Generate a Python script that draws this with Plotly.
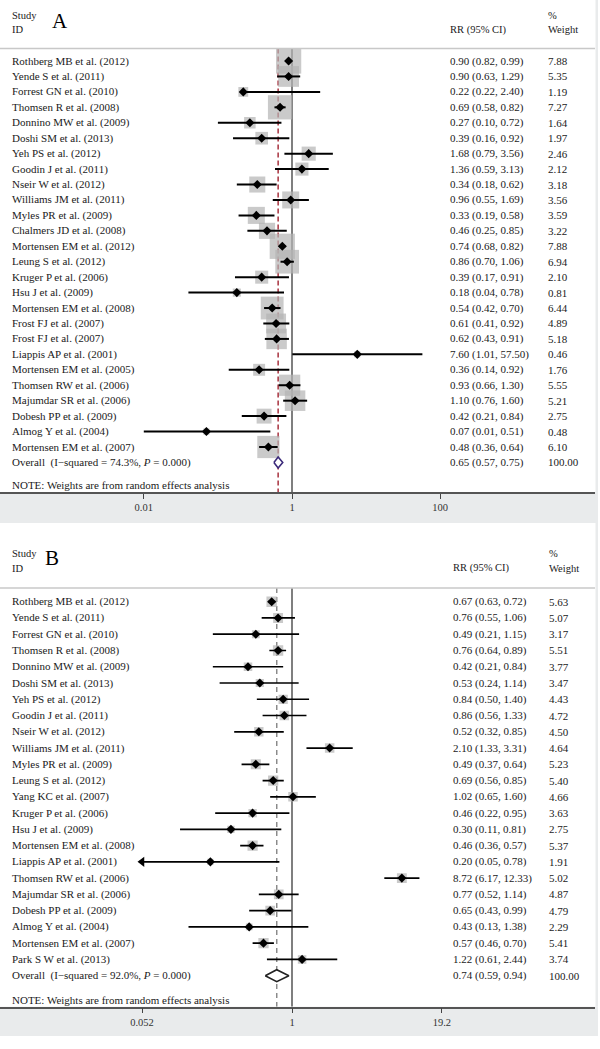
import plotly.graph_objects as go
import math

W, H = 600, 1049
FONT = "Liberation Serif, Times New Roman, serif"

# ---------------- Panel A data ----------------
studies_a = [
    "Rothberg MB et al. (2012)", "Yende S et al. (2011)", "Forrest GN et al. (2010)",
    "Thomsen R et al. (2008)", "Donnino MW et al. (2009)", "Doshi SM et al. (2013)",
    "Yeh PS et al. (2012)", "Goodin J et al. (2011)", "Nseir W et al. (2012)",
    "Williams JM et al. (2011)", "Myles PR et al. (2009)", "Chalmers JD et al. (2008)",
    "Mortensen EM et al. (2012)", "Leung S et al. (2012)", "Kruger P et al. (2006)",
    "Hsu J et al. (2009)", "Mortensen EM et al. (2008)", "Frost FJ et al. (2007)",
    "Frost FJ et al. (2007)", "Liappis AP et al. (2001)", "Mortensen EM et al. (2005)",
    "Thomsen RW et al. (2006)", "Majumdar SR et al. (2006)", "Dobesh PP et al. (2009)",
    "Almog Y et al. (2004)", "Mortensen EM et al. (2007)",
]
rr_a = [0.90, 0.90, 0.22, 0.69, 0.27, 0.39, 1.68, 1.36, 0.34, 0.96, 0.33, 0.46, 0.74,
        0.86, 0.39, 0.18, 0.54, 0.61, 0.62, 7.60, 0.36, 0.93, 1.10, 0.42, 0.07, 0.48]
lo_a = [0.82, 0.63, 0.22, 0.58, 0.10, 0.16, 0.79, 0.59, 0.18, 0.55, 0.19, 0.25, 0.68,
        0.70, 0.17, 0.04, 0.42, 0.41, 0.43, 1.01, 0.14, 0.66, 0.76, 0.21, 0.01, 0.36]
hi_a = [0.99, 1.29, 2.40, 0.82, 0.72, 0.92, 3.56, 3.13, 0.62, 1.69, 0.58, 0.85, 0.82,
        1.06, 0.91, 0.78, 0.70, 0.92, 0.91, 57.50, 0.92, 1.30, 1.60, 0.84, 0.51, 0.64]
wt_a = [7.88, 5.35, 1.19, 7.27, 1.64, 1.97, 2.46, 2.12, 3.18, 3.56, 3.59, 3.22, 7.88,
        6.94, 2.10, 0.81, 6.44, 4.89, 5.18, 0.46, 1.76, 5.55, 5.21, 2.75, 0.48, 6.10]
overall_label_a = "Overall  (I\u2212squared = 74.3%, <i>P</i> = 0.000)"
overall_a = [0.65, 0.57, 0.75]
overall_wt_a = "100.00"
ticks_a = [0.01, 1, 100]
ticktext_a = ["0.01", "1", "100"]

# ---------------- Panel B data ----------------
studies_b = [
    "Rothberg MB et al. (2012)", "Yende S et al. (2011)", "Forrest GN et al. (2010)",
    "Thomsen R et al. (2008)", "Donnino MW et al. (2009)", "Doshi SM et al. (2013)",
    "Yeh PS et al. (2012)", "Goodin J et al. (2011)", "Nseir W et al. (2012)",
    "Williams JM et al. (2011)", "Myles PR et al. (2009)", "Leung S et al. (2012)",
    "Yang KC et al. (2007)", "Kruger P et al. (2006)", "Hsu J et al. (2009)",
    "Mortensen EM et al. (2008)", "Liappis AP et al. (2001)", "Thomsen RW et al. (2006)",
    "Majumdar SR et al. (2006)", "Dobesh PP et al. (2009)", "Almog Y et al. (2004)",
    "Mortensen EM et al. (2007)", "Park S W et al. (2013)",
]
rr_b = [0.67, 0.76, 0.49, 0.76, 0.42, 0.53, 0.84, 0.86, 0.52, 2.10, 0.49, 0.69,
        1.02, 0.46, 0.30, 0.46, 0.20, 8.72, 0.77, 0.65, 0.43, 0.57, 1.22]
lo_b = [0.63, 0.55, 0.21, 0.64, 0.21, 0.24, 0.50, 0.56, 0.32, 1.33, 0.37, 0.56,
        0.65, 0.22, 0.11, 0.36, 0.05, 6.17, 0.52, 0.43, 0.13, 0.46, 0.61]
hi_b = [0.72, 1.06, 1.15, 0.89, 0.84, 1.14, 1.40, 1.33, 0.85, 3.31, 0.64, 0.85,
        1.60, 0.95, 0.81, 0.57, 0.78, 12.33, 1.14, 0.99, 1.38, 0.70, 2.44]
wt_b = [5.63, 5.07, 3.17, 5.51, 3.77, 3.47, 4.43, 4.72, 4.50, 4.64, 5.23, 5.40,
        4.66, 3.63, 2.75, 5.37, 1.91, 5.02, 4.87, 4.79, 2.29, 5.41, 3.74]
overall_label_b = "Overall  (I\u2212squared = 92.0%, <i>P</i> = 0.000)"
overall_b = [0.74, 0.59, 0.94]
overall_wt_b = "100.00"
ticks_b = [0.052, 1, 19.2]
ticktext_b = ["0.052", "1", "19.2"]

note_text = "NOTE: Weights are from random effects analysis"


def px_x(x):
    return x / W


def px_y(y):
    return 1 - y / H


panels = [
    dict(key="", studies=studies_a, rr=rr_a, lo=lo_a, hi=hi_a, wt=wt_a,
         ov_label=overall_label_a, ov=overall_a, ov_wt=overall_wt_a,
         ticks=ticks_a, ticktext=ticktext_a,
         letter="A", letter_x=50,
         top=0, axis_y=492, band_end=523, row0=61, step=15.44, header_y=48.5,
         study_y=15, id_y=30, letter_y=21,
         x_one=292, decade=74.1, xmin=0.01, xmax=100,
         rr_x=448, wt_x=546, box_k=9.0, ci_w=2.0,
         ref_color="#a8323e", ref_dash="5px,3px", dia_color="#3b2a7a", dia_h=5.5),
    dict(key="2", studies=studies_b, rr=rr_b, lo=lo_b, hi=hi_b, wt=wt_b,
         ov_label=overall_label_b, ov=overall_b, ov_wt=overall_wt_b,
         ticks=ticks_b, ticktext=ticktext_b,
         letter="B", letter_x=43,
         top=523, axis_y=1006.7, band_end=1036, row0=601.7, step=16.26, header_y=588,
         study_y=553, id_y=568, letter_y=558,
         x_one=292, decade=116.8, xmin=0.052, xmax=19.2,
         rr_x=451, wt_x=547, box_k=4.4, ci_w=1.7,
         ref_color="#8a8a8a", ref_dash="5px,4px", dia_color="#222222", dia_h=6.0),
]

fig = go.Figure()
annotations = []
shapes = []
layout_axes = {}

for p in panels:
    k = p["key"]
    xa = "x" + k
    ya = "y" + k
    n = len(p["studies"])
    ov_i = n

    def row_of(ypx, p=p):
        return (ypx - p["row0"]) / p["step"]

    y_top_i = row_of(p["top"])
    y_bot_i = row_of(p["axis_y"])
    y_head_i = row_of(p["header_y"])

    xr0 = (0 - p["x_one"]) / p["decade"]
    xr1 = (595 - p["x_one"]) / p["decade"]

    layout_axes["xaxis" + k] = dict(
        domain=[0, px_x(595)], type="log", range=[xr0, xr1], anchor=ya,
        showline=True, linecolor="#555555", linewidth=1.5, mirror=False,
        ticks="outside", ticklen=5, tickwidth=1.3, tickcolor="#444444",
        tickvals=p["ticks"], ticktext=p["ticktext"],
        tickfont=dict(family=FONT, size=10.5, color="#333333"),
        showgrid=False, zeroline=False, fixedrange=True,
    )
    layout_axes["yaxis" + k] = dict(
        domain=[px_y(p["axis_y"]), px_y(p["top"])], range=[y_bot_i, y_top_i],
        anchor=xa, visible=False, showgrid=False, zeroline=False, fixedrange=True,
    )

    fig.add_trace(go.Scatter(x=[1, 1], y=[y_head_i, y_bot_i], mode="lines",
                             line=dict(color="#555555", width=1.5),
                             xaxis=xa, yaxis=ya, hoverinfo="skip", showlegend=False))
    fig.add_trace(go.Scatter(x=[p["ov"][0], p["ov"][0]], y=[y_head_i, y_bot_i], mode="lines",
                             line=dict(color=p["ref_color"], width=1.5, dash=p["ref_dash"]),
                             xaxis=xa, yaxis=ya, hoverinfo="skip", showlegend=False))
    rows = list(range(n))
    fig.add_trace(go.Scatter(x=p["rr"], y=rows, mode="markers",
                             marker=dict(symbol="square", color="#b4b4b4",
                                         size=[p["box_k"] * math.sqrt(w) for w in p["wt"]],
                                         line=dict(width=0)),
                             xaxis=xa, yaxis=ya, hoverinfo="skip", showlegend=False))
    cx, cy = [], []
    arrows_x, arrows_y = [], []
    for i, (lo, hi) in enumerate(zip(p["lo"], p["hi"])):
        l = max(lo, p["xmin"])
        h = min(hi, p["xmax"])
        cx += [l, h, None]
        cy += [i, i, None]
        if lo < p["xmin"]:
            arrows_x.append(l)
            arrows_y.append(i)
    fig.add_trace(go.Scatter(x=cx, y=cy, mode="lines",
                             line=dict(color="black", width=p["ci_w"]),
                             xaxis=xa, yaxis=ya, hoverinfo="skip", showlegend=False))
    if arrows_x:
        fig.add_trace(go.Scatter(x=arrows_x, y=arrows_y, mode="markers",
                                 marker=dict(symbol="triangle-left", size=9, color="black"),
                                 xaxis=xa, yaxis=ya, hoverinfo="skip", showlegend=False))
    fig.add_trace(go.Scatter(x=p["rr"], y=rows, mode="markers",
                             marker=dict(symbol="diamond", size=7, color="black"),
                             xaxis=xa, yaxis=ya, hoverinfo="skip", showlegend=False))
    dh = p["dia_h"] / p["step"]
    orr, olo, ohi = p["ov"]
    fig.add_trace(go.Scatter(x=[olo, orr, ohi, orr, olo], y=[ov_i, ov_i - dh, ov_i, ov_i + dh, ov_i],
                             mode="lines", fill="toself", fillcolor="white",
                             line=dict(color=p["dia_color"], width=1.6),
                             xaxis=xa, yaxis=ya, hoverinfo="skip", showlegend=False))

    tf = dict(family=FONT, size=11, color="#1a1a1a")
    hf = dict(family=FONT, size=10.5, color="#1a1a1a")
    for i, name in enumerate(p["studies"]):
        annotations.append(dict(x=px_x(10), y=i, xref="paper", yref=ya, text=name,
                                showarrow=False, xanchor="left", yanchor="middle", font=tf))
        annotations.append(dict(x=px_x(p["rr_x"]), y=i, xref="paper", yref=ya,
                                text=f"{p['rr'][i]:.2f} ({p['lo'][i]:.2f}, {p['hi'][i]:.2f})",
                                showarrow=False, xanchor="left", yanchor="middle", font=tf))
        annotations.append(dict(x=px_x(p["wt_x"]), y=i, xref="paper", yref=ya,
                                text=f"{p['wt'][i]:.2f}",
                                showarrow=False, xanchor="left", yanchor="middle", font=tf))
    annotations.append(dict(x=px_x(10), y=ov_i, xref="paper", yref=ya, text=p["ov_label"],
                            showarrow=False, xanchor="left", yanchor="middle", font=tf))
    annotations.append(dict(x=px_x(p["rr_x"]), y=ov_i, xref="paper", yref=ya,
                            text=f"{orr:.2f} ({olo:.2f}, {ohi:.2f})",
                            showarrow=False, xanchor="left", yanchor="middle", font=tf))
    annotations.append(dict(x=px_x(p["wt_x"]), y=ov_i, xref="paper", yref=ya,
                            text=p["ov_wt"],
                            showarrow=False, xanchor="left", yanchor="middle", font=tf))
    note_y = p["axis_y"] - 7
    annotations.append(dict(x=px_x(10), y=px_y(note_y), xref="paper", yref="paper",
                            text=note_text, showarrow=False, xanchor="left",
                            yanchor="middle", font=tf))
    annotations.append(dict(x=px_x(10), y=px_y(p["study_y"]), xref="paper", yref="paper",
                            text="Study", showarrow=False, xanchor="left", yanchor="middle", font=hf))
    annotations.append(dict(x=px_x(10), y=px_y(p["id_y"]), xref="paper", yref="paper",
                            text="ID", showarrow=False, xanchor="left", yanchor="middle", font=hf))
    annotations.append(dict(x=px_x(p["letter_x"]), y=px_y(p["letter_y"]), xref="paper", yref="paper",
                            text=p["letter"], showarrow=False, xanchor="left", yanchor="middle",
                            font=dict(family=FONT, size=21, color="black")))
    annotations.append(dict(x=px_x(p["rr_x"]), y=px_y(p["id_y"]), xref="paper", yref="paper",
                            text="RR (95% CI)", showarrow=False, xanchor="left", yanchor="middle", font=hf))
    annotations.append(dict(x=px_x(p["wt_x"]), y=px_y(p["study_y"]), xref="paper", yref="paper",
                            text="%", showarrow=False, xanchor="left", yanchor="middle", font=hf))
    annotations.append(dict(x=px_x(p["wt_x"]), y=px_y(p["id_y"]), xref="paper", yref="paper",
                            text="Weight", showarrow=False, xanchor="left", yanchor="middle", font=hf))

    shapes.append(dict(type="line", xref="paper", yref="paper",
                       x0=px_x(0), x1=px_x(595), y0=px_y(p["header_y"]), y1=px_y(p["header_y"]),
                       line=dict(color="#c8c8c8", width=1.5)))
    shapes.append(dict(type="rect", xref="paper", yref="paper", layer="below",
                       x0=px_x(0), x1=px_x(598), y0=px_y(p["band_end"]), y1=px_y(p["axis_y"]),
                       fillcolor="#e9ebec", line=dict(width=0)))
    shapes.append(dict(type="rect", xref="paper", yref="paper", layer="below",
                       x0=px_x(595.5), x1=px_x(598), y0=px_y(p["axis_y"]), y1=px_y(p["top"]),
                       fillcolor="#e9ebec", line=dict(width=0)))

fig.update_layout(
    width=W, height=H, autosize=False,
    margin=dict(l=0, r=0, t=0, b=0, pad=0),
    paper_bgcolor="white", plot_bgcolor="white",
    showlegend=False,
    annotations=annotations, shapes=shapes,
    **layout_axes,
)

fig.write_html(
    "out.html",
    config={"displayModeBar": False},
    post_script="document.body.style.margin='0px';document.body.style.overflow='hidden';",
)
